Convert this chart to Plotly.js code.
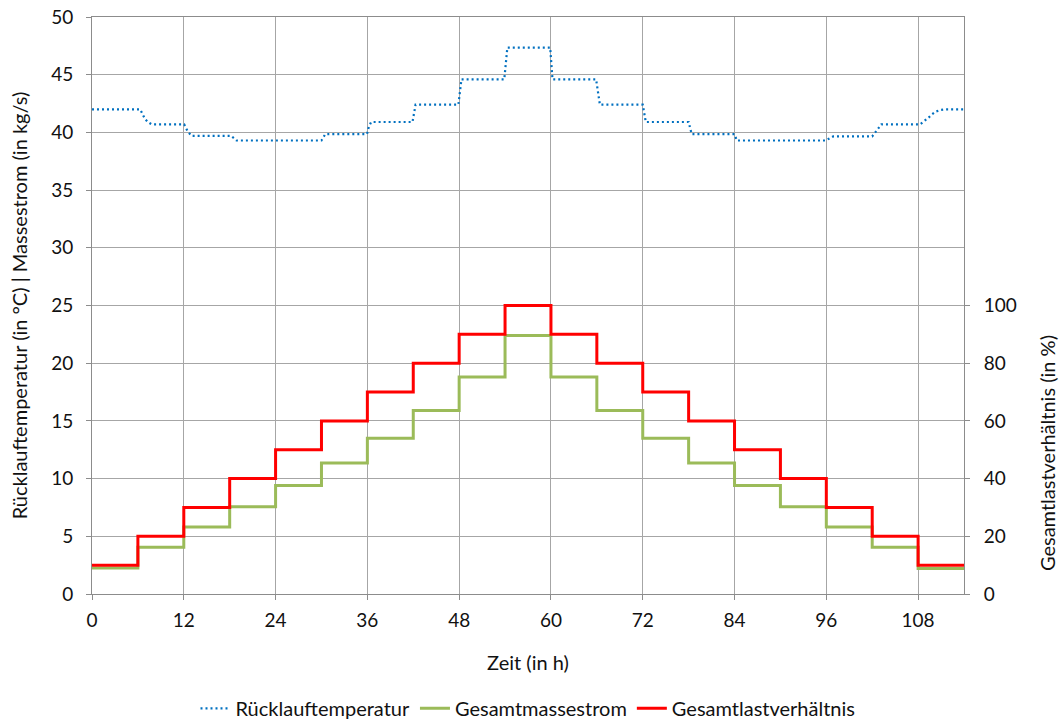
<!DOCTYPE html>
<html>
<head>
<meta charset="utf-8">
<script src="https://cdn.plot.ly/plotly-3.0.1.min.js"></script>
<style>
  html, body { margin: 0; padding: 0; background: #ffffff; }
  #chart { width: 1062px; height: 722px; }
</style>
</head>
<body>
<div id="chart"></div>
<script>
// Step start times (h) of the 19 load stages, each lasting 6 h
const stageStart = [0, 6, 12, 18, 24, 30, 36, 42, 48, 54, 60, 66, 72, 78, 84, 90, 96, 102, 108];
const endTime = 114;

// Gesamtlastverhältnis per stage (in %)
const lastverhaeltnis = [10, 20, 30, 40, 50, 60, 70, 80, 90, 100, 90, 80, 70, 60, 50, 40, 30, 20, 10];

// Gesamtmassestrom per stage (in kg/s)
const massestrom = [2.25, 4.05, 5.8, 7.55, 9.4, 11.35, 13.5, 15.9, 18.8, 22.4,
                    18.8, 15.9, 13.5, 11.35, 9.4, 7.55, 5.8, 4.05, 2.2];

// Rücklauftemperatur time series (in h / in °C), including the transient after each load change
const tempTime = [0, 6.3, 6.6, 6.9, 7.3, 7.8, 12.05, 12.5, 13.0, 18.2, 18.9, 30.0, 30.5,
                  35.95, 36.2, 36.5, 41.9, 42.3, 47.9, 48.3, 53.9, 54.3, 59.9, 60.2,
                  65.9, 66.4, 72.0, 72.4, 78.0, 78.4, 84.0, 84.3, 95.9, 96.9, 102.0, 103.2,
                  108.26, 108.9, 109.4, 109.8, 110.3, 111.0, 111.6, 114];
const tempValue = [42.0, 42.0, 41.6, 41.2, 40.9, 40.7, 40.7, 40.1, 39.7, 39.7, 39.3, 39.3, 39.85,
                   39.85, 40.5, 40.9, 40.9, 42.4, 42.4, 44.6, 44.6, 47.35, 47.35, 44.6,
                   44.6, 42.4, 42.4, 40.9, 40.9, 39.85, 39.85, 39.3, 39.3, 39.65, 39.65, 40.7,
                   40.7, 41.0, 41.3, 41.55, 41.8, 41.95, 42.0, 42.0];

// Axis tick labels
const xTicks = [0, 12, 24, 36, 48, 60, 72, 84, 96, 108];
const yRightTicks = [0, 20, 40, 60, 80, 100];

// Step traces: repeat the last value at the end time so the final stage is drawn
const stepX = stageStart.concat([endTime]);
const withEnd = arr => arr.concat([arr[arr.length - 1]]);

const FONT = 'Lato, "Open Sans", sans-serif';
const TEXT = '#111111';
const GRID = '#a6a6a6';
const AXIS = '#8c8c8c';
const TICK_FONT = { family: FONT, size: 19, color: TEXT };
const TITLE_FONT = { family: FONT, size: 20, color: TEXT };

const traces = [
  {
    name: 'Rücklauftemperatur',
    x: tempTime, y: tempValue,
    type: 'scatter', mode: 'lines',
    line: { color: '#0070c0', width: 2.2, dash: '2px,3px' },
    xaxis: 'x', yaxis: 'y'
  },
  {
    name: 'Gesamtmassestrom',
    x: stepX, y: withEnd(massestrom),
    type: 'scatter', mode: 'lines',
    line: { color: '#9bbb59', width: 3, shape: 'hv' },
    xaxis: 'x', yaxis: 'y'
  },
  {
    name: 'Gesamtlastverhältnis',
    x: stepX, y: withEnd(lastverhaeltnis),
    type: 'scatter', mode: 'lines',
    line: { color: '#ff0000', width: 3, shape: 'hv' },
    xaxis: 'x', yaxis: 'y2'
  }
];

const layout = {
  width: 1062, height: 722,
  margin: { l: 92, r: 98, t: 17, b: 128 },
  paper_bgcolor: '#ffffff', plot_bgcolor: '#ffffff',
  font: { family: FONT, size: 20, color: TEXT },
  showlegend: true,
  legend: {
    orientation: 'h',
    xref: 'paper', x: 0.5, xanchor: 'center',
    yref: 'container', y: 0.019, yanchor: 'middle',
    font: TITLE_FONT,
    itemwidth: 30, tracegroupgap: 0
  },
  xaxis: {
    range: [0, endTime],
    tickmode: 'array', tickvals: xTicks, ticktext: xTicks.map(String),
    showgrid: true, gridcolor: GRID, gridwidth: 1,
    showline: true, linecolor: AXIS, linewidth: 1, mirror: true,
    ticks: 'outside', ticklen: 5, tickcolor: AXIS, ticklabelstandoff: 4,
    zeroline: false, automargin: false,
    tickfont: TICK_FONT,
    title: { text: 'Zeit (in h)', font: TITLE_FONT, standoff: 26 }
  },
  yaxis: {
    range: [0, 50], dtick: 5, tick0: 0,
    showgrid: true, gridcolor: GRID, gridwidth: 1,
    showline: true, linecolor: AXIS, linewidth: 1, mirror: true,
    ticks: 'outside', ticklen: 5, tickcolor: AXIS, ticklabelstandoff: 9,
    zeroline: false, automargin: false,
    tickfont: TICK_FONT,
    title: { text: 'Rücklauftemperatur (in °C) | Massestrom (in kg/s)',
             font: TITLE_FONT, standoff: 18 }
  },
  yaxis2: {
    overlaying: 'y', side: 'right', anchor: 'x',
    range: [0, 200],
    tickmode: 'array', tickvals: yRightTicks, ticktext: yRightTicks.map(String),
    showgrid: false, zeroline: false, automargin: false,
    showline: true, linecolor: AXIS, linewidth: 1,
    ticks: 'outside', ticklen: 5, tickcolor: AXIS, ticklabelstandoff: 10,
    tickfont: TICK_FONT
  },
  annotations: [{
    text: 'Gesamtlastverhältnis (in %)',
    xref: 'paper', yref: 'paper',
    x: 1.0945, y: 0.245, xanchor: 'center', yanchor: 'middle',
    textangle: -90, showarrow: false,
    font: TITLE_FONT
  }]
};

Plotly.newPlot('chart', traces, layout, { displayModeBar: false, staticPlot: true });
</script>
</body>
</html>
